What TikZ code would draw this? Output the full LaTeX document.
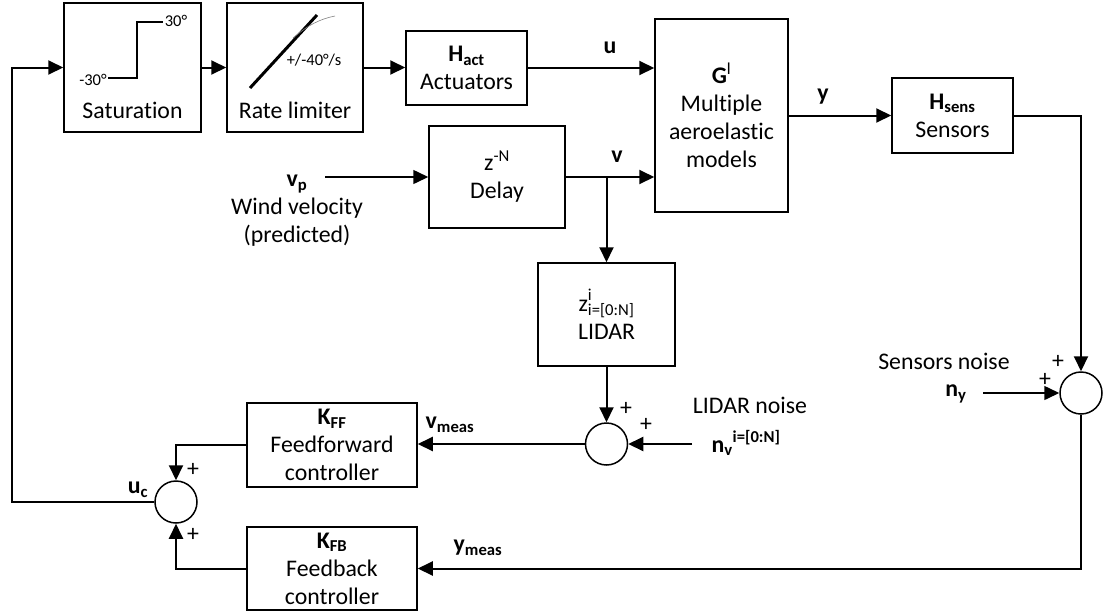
\documentclass[tikz,border=0pt]{standalone}
\usepackage{fontspec}
\setmainfont{Carlito}[Ligatures=NoCommon]
\usetikzlibrary{arrows.meta}
\newcommand{\sig}[2]{\textbf{#1\textsubscript{#2}}}

\begin{document}
\begin{tikzpicture}[x=1pt,y=-1pt,font=\fontsize{23.8}{28}\selectfont,
  block/.style={draw,line width=1.5pt,inner sep=0pt,align=center},
  sumnode/.style={draw,circle,line width=1.5pt,minimum size=42pt,inner sep=0pt},
  wire/.style={line width=2pt,-{Triangle[length=15pt,width=14pt]}},
  small/.style={font=\fontsize{16.5}{19}\selectfont}]
\useasboundingbox (0,0) rectangle (1106,614);
% blocks
\node[block,minimum width=137pt,minimum height=129pt] (sat) at (132.5,67.5) {};
\node[block,minimum width=136pt,minimum height=129pt] (rate) at (295,67.5) {};
\node[block,minimum width=121pt,minimum height=74pt] (act) at (466.5,68) {\sig{H}{act}\\Actuators};
\node[block,minimum width=133pt,minimum height=193pt] (gmod) at (721.5,115.5) {\textbf{G}\textsuperscript{l}\\Multiple\\aeroelastic\\models};
\node[block,minimum width=136pt,minimum height=102pt] (delay) at (497,177) {z\textsuperscript{-N}\\Delay};
\node[block,minimum width=137pt,minimum height=103pt] (lidar) at (606.5,314.5) {z\rlap{\raisebox{2pt}{\textsuperscript{i}}}\textsubscript{i=[0:N]}\\LIDAR};
\node[block,minimum width=121pt,minimum height=75pt] (sens) at (952.5,115.5) {\sig{H}{sens}\\Sensors};
\node[block,minimum width=170pt,minimum height=84pt] (kff) at (332,445) {\sig{K}{FF}\\Feedforward\\controller};
\node[block,minimum width=170pt,minimum height=83pt] (kfb) at (332,568.5) {\sig{K}{FB}\\Feedback\\controller};
% summing junctions
\node[sumnode] (sumv) at (606.5,444) {};
\node[sumnode] (sumy) at (1081,393) {};
\node[sumnode] (sumu) at (176,502) {};
% saturation and rate limiter sketches
\draw[line width=2pt] (108,78) -- (137,78) -- (137,22) -- (163,22);
\node[small] (satlo) at (93,80) {-30°};
\node[small] (sathi) at (176,21) {30°};
\node (satname) at (132.5,110) {Saturation};
\draw[line width=3pt] (250,88) -- (317,15);
\draw[gray,line width=0.6pt] (293,38) .. controls (308,25) and (320,19) .. (335,16);
\node[small] (ratelim) at (314,60) {+/-40°/s};
\node (ratename) at (295,110) {Rate limiter};
% inputs
\coordinate (vpin) at (325,177);
\coordinate (nyin) at (983,393);
\coordinate (nvin) at (692,444);
\coordinate (back) at (12,502);
% signals
\draw[wire] (sat) -- (rate);
\draw[wire] (rate) -- (rate -| act.west);
\draw[wire] (act) -- (act -| gmod.west);
\draw[wire] (delay) -- (delay -| gmod.west);
\draw[wire] (lidar.north |- delay) -- (lidar);
\draw[wire,line width=1.5pt] (vpin) -- (delay);
\draw[wire] (gmod) -- (sens);
\draw[wire] (sens.east) -| (sumy.north);
\draw[wire,line width=1.5pt] (nyin) -- (sumy);
\draw[wire] (sumy.south) |- (kfb.east);
\draw[wire] (lidar) -- (sumv);
\draw[wire] (nvin) -- (sumv);
\draw[wire] (sumv) -- (sumv -| kff.east);
\draw[wire] (kff.west) -| (sumu.north);
\draw[wire] (kfb.west) -| (sumu.south);
\draw[wire] (sumu.west) -- (back) |- (sat.west);
% labels
\node (lu) at (610,48) {\textbf{u}};
\node (lv) at (617,157) {\textbf{v}};
\node (ly) at (823,97) {\textbf{y}};
\node[align=center] (lvp) at (297,211) {\sig{v}{p}\\Wind velocity\\(predicted)};
\node (lnoisey) at (944,361) {Sensors noise};
\node (lny) at (956,394) {\sig{n}{y}};
\node (lnoisev) at (750,405) {LIDAR noise};
\node[anchor=base west] (lnv) at (708,452) {\textbf{n\textsubscript{v}\textsuperscript{i=[0:N]}}};
\node (lvmeas) at (450,425) {\sig{v}{meas}};
\node (lymeas) at (478,548) {\sig{y}{meas}};
\node (luc) at (138,490) {\sig{u}{c}};
\node (p1) at (193,470) {+};
\node (p2) at (193,535) {+};
\node (p3) at (626,409) {+};
\node (p4) at (646,425) {+};
\node (p5) at (1058,362) {+};
\node (p6) at (1045,380) {+};
\end{tikzpicture}
\end{document}
